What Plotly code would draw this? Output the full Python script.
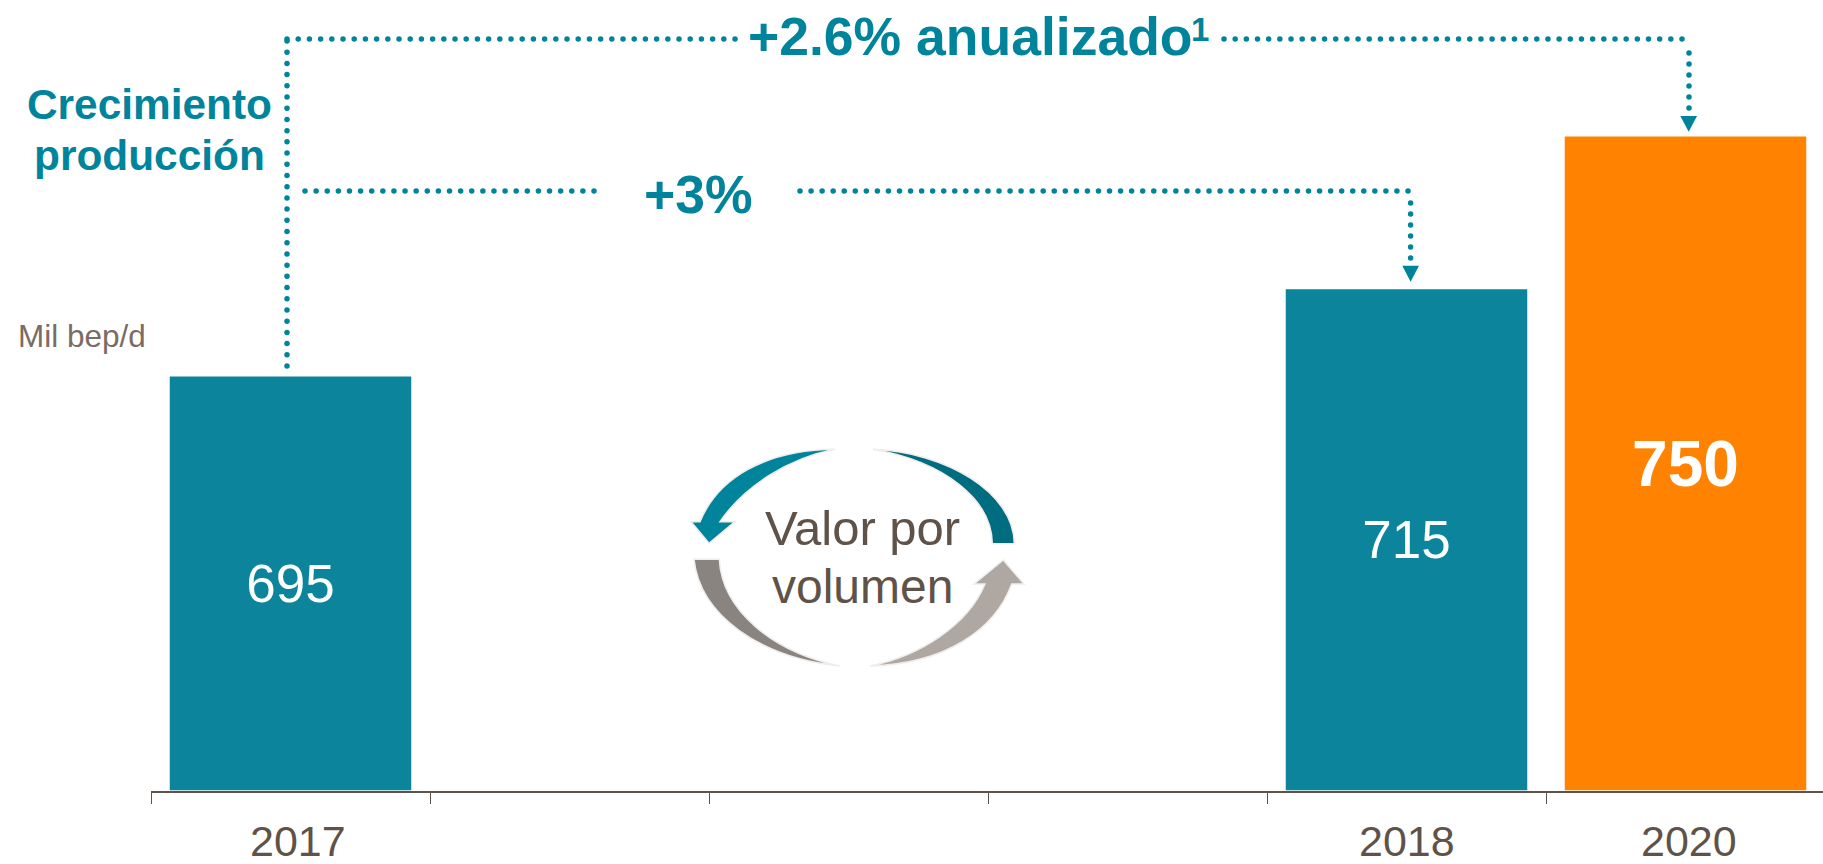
import plotly.graph_objects as go

# ---- data ----
categories = ["2017", " ", "  ", "   ", "2018", "2020"]
values = [695, None, None, None, 715, 750]
bar_colors = ["#0B849C", "#0B849C", "#0B849C", "#0B849C", "#0B849C", "#FF8300"]
bar_labels = ["695", "", "", "", "715", "<b>750</b>"]
label_sizes = [53, 53, 53, 53, 53, 64]
year_labels = ["2017", "2018", "2020"]
year_shifts = [7, 0, 3]

TEAL = "#00849B"
BROWN = "#5F5248"
FONT = "Liberation Sans"
W, H = 1823, 864
BASE_Y = 790.6
PLOT_L = 151
STEP = 279
Y0 = 600          # the value axis is truncated: bars start from 600
PX_PER_UNIT = 4.36

fig = go.Figure()
fig.add_trace(go.Bar(
    x=categories, y=[None if v is None else v - Y0 for v in values], base=Y0,
    marker=dict(color=bar_colors, line=dict(width=0)),
    text=bar_labels, textposition="inside", insidetextanchor="middle", textangle=0,
    constraintext="none",
    textfont=dict(family=FONT, color="white", size=label_sizes),
    hoverinfo="skip", showlegend=False,
))

# Dotted connectors, on a full-page overlay axis measured in page pixels
dotted_runs = [
    (287, 41, 287, 366),      # long vertical
    (287, 39, 735, 39),       # top, left of the label
    (1224, 39, 1682, 39),     # top, right of the label
    (1689, 53, 1689, 108),    # drop to 2020
    (305, 191, 594, 191),     # middle, left of the label
    (800, 191, 1408, 191),    # middle, right of the label
    (1410.6, 203, 1410.6, 258),  # drop to 2018
]
dx, dy = [], []
for x0, y0, x1, y1 in dotted_runs:
    length = max(abs(x1 - x0), abs(y1 - y0))
    n = round(length / 11.15)
    for i in range(n + 1):
        dx.append(x0 + (x1 - x0) * i / n)
        dy.append(y0 + (y1 - y0) * i / n)
fig.add_trace(go.Scatter(
    x=dx, y=dy, xaxis="x2", yaxis="y2", mode="markers",
    marker=dict(symbol="circle", size=5.5, color=TEAL, line=dict(width=0)),
    hoverinfo="skip", showlegend=False,
))

HALO = dict(color="#EFEDEB", width=1.5)
shapes = [
    # arrowheads
    ("M1680.3,116 L1697,116 L1688.7,131.7 Z", TEAL, dict(width=0)),
    ("M1402.3,265.7 L1419,265.7 L1410.6,281.7 Z", TEAL, dict(width=0)),
    # value-over-volume cycle
    ("M873.3,449.3 C945,452 1014,492 1014.3,543.7 L992.3,543.7 C992,500 945,462 873.3,449.3 Z", "#006C80", HALO),
    ("M835,449.3 C765,450 718,478 700,521.7 L691,521.7 L709,543.3 L735,521.7 L720,521.7 C745,485 790,458 835,449.3 Z", "#00849B", HALO),
    ("M694,559.3 C700,615 760,658 840,666 C772,652 722,610 719.3,559.3 Z", "#8A8480", HALO),
    ("M1003.3,560 L1024,584 L1011.7,584 C995,630 945,664 870,666 C920,656 968,625 985,584 L974,584 Z", "#AFA8A2", HALO),
]
for path, color, line in shapes:
    fig.add_shape(type="path", path=path, fillcolor=color, line=line, xref="x2", yref="y2", layer="above")

# (x, y, anchor, text, size, colour)
texts = [
    (747, 36, "left", "<b>+2.6% anualizado</b>", 53.5, TEAL),
    (1190, 29, "left", "<b>1</b>", 33, TEAL),
    (149, 104, "center", "<b>Crecimiento</b>", 42.4, TEAL),
    (149, 155, "center", "<b>producción</b>", 42.4, TEAL),
    (698, 194, "center", "<b>+3%</b>", 53.5, TEAL),
    (82, 336, "center", "Mil bep/d", 31.5, "#7A6C62"),
    (862, 528, "center", "Valor por", 49, BROWN),
    (862, 586, "center", "volumen", 48, BROWN),
]
for x, y, anchor, text, size, color in texts:
    fig.add_annotation(x=x, y=y, xref="x2", yref="y2", text=text, showarrow=False,
                       xanchor=anchor, yanchor="middle", borderpad=0,
                       font=dict(family=FONT, size=size, color=color))

# Year labels sit on the category axis (by category index), nudged as in the reference
for label, shift in zip(year_labels, year_shifts):
    fig.add_annotation(x=categories.index(label), xref="x", y=840.5, yref="y2", text=label, showarrow=False,
                       xshift=shift, xanchor="center", yanchor="middle", borderpad=0,
                       font=dict(family=FONT, size=43, color=BROWN))

fig.update_layout(
    width=W, height=H, margin=dict(l=0, r=0, t=0, b=0, pad=0),
    paper_bgcolor="white", plot_bgcolor="rgba(0,0,0,0)",
    bargap=1 - 241.5 / STEP,
    font=dict(family=FONT),
    xaxis=dict(
        domain=[PLOT_L / W, 1], type="category", categoryorder="array", categoryarray=categories,
        range=[-0.5, -0.5 + (W - PLOT_L) / STEP], tickson="boundaries",
        showline=True, linecolor=BROWN, linewidth=2, showgrid=False, zeroline=False,
        ticks="outside", ticklen=11, tickwidth=1, tickcolor=BROWN,
        showticklabels=False, automargin=False,
    ),
    yaxis=dict(
        domain=[(H - BASE_Y) / H, 1], range=[Y0, Y0 + BASE_Y / PX_PER_UNIT],
        visible=False, fixedrange=True,
    ),
    xaxis2=dict(domain=[0, 1], range=[0, W], visible=False, anchor="y2"),
    yaxis2=dict(domain=[0, 1], range=[H, 0], visible=False, anchor="x2"),
)

fig.write_html("out.html", config=dict(displayModeBar=False),
               post_script="document.body.style.margin='0';document.body.style.overflow='hidden';")
